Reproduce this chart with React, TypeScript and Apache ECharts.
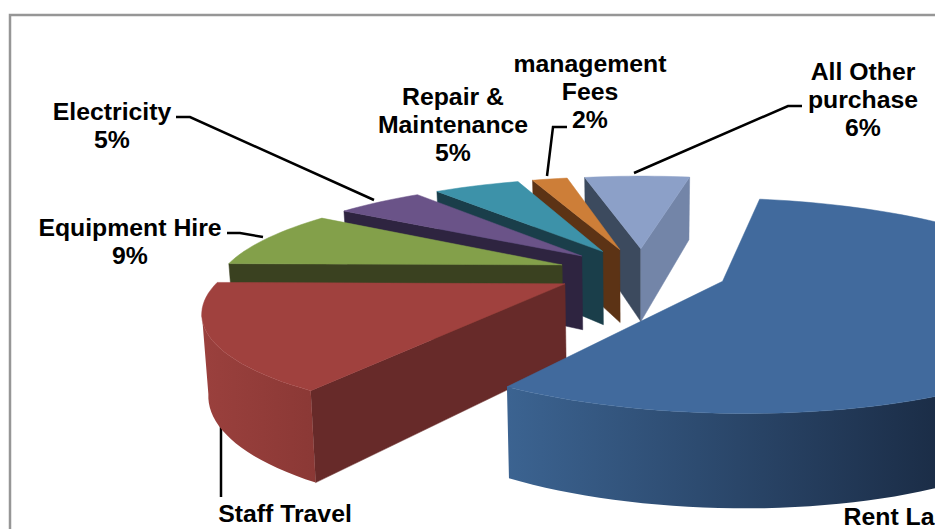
import React, { useEffect, useRef } from "react";
import * as echarts from "echarts";

const categories = ["Rent La", "Staff Travel", "Equipment Hire", "Electricity", "Repair &\nMaintenance", "management\nFees", "All Other\npurchase"];
const shares = [56.3, 16, 9.1, 5.1, 5.1, 2.1, 6.3];
const percentLabels = ["", "", "9%", "5%", "5%", "2%", "6%"];

const topColors = ["#416a9d", "#a0413e", "#83a04a", "#6a5388", "#3d92a9", "#cd7e38", "#8ca0c8"];
const startWallColors = ["#2c4a70", "#672a29", "#3a4120", "#2e2440", "#1a3e4a", "#5c3315", "#3c4a5e"];
const endWallColors = ["#2c4a70", "#672a29", "#3a4120", "#2e2440", "#1a3e4a", "#5c3315", "#7385a8"];
const rimStops: [string, string][] = [
  ["#3c6492", "#1b2d47"], ["#9a403d", "#8a3835"], ["#66803a", "#66803a"], ["#4f3d68", "#4f3d68"],
  ["#2e7085", "#2e7085"], ["#a5642b", "#a5642b"], ["#7385a8", "#7385a8"],
];
const rimRanges: [number, number][] = [[501, 935], [205, 320], [230, 320], [340, 420], [430, 520], [530, 575], [580, 690]];

const labelPositions: [number, number][] = [[889, 516], [285, 513], [130, 241], [112, 125], [453, 124], [590, 91], [863, 99]];
const leaders: [number, number][][] = [
  [[221, 420], [221, 497]],
  [[227, 233], [240, 233], [263, 237]],
  [[176, 117], [190, 117], [374, 200]],
  [[567, 127], [553, 127], [547, 176]],
  [[802, 106], [788, 106], [634, 173]],
];

const START_DEG = 10.5;
const EXPLODE = 0.25;
const CX = 642, CY = 272, A = 340, B = 98, K = 0.222, H = 76, SHRINK = 0.015, DEPTH_POW = 0.8;
const STEP = 2;
const total = shares.reduce((s, v) => s + v, 0);

function proj(X: number, Y: number, z: number): [number, number] {
  const s = 1 / (1 - K * Y);
  return [CX + A * X * s * (1 - SHRINK * z), CY + B * Y * s + H * z * Math.pow(s, DEPTH_POW)];
}
const dir = (deg: number): [number, number] => {
  const r = (deg * Math.PI) / 180;
  return [Math.sin(r), -Math.cos(r)];
};

function quad(p: [number, number], q: [number, number], fill: any, z2: number, wp: [number, number], wq: [number, number]) {
  return {
    type: "polygon",
    z2,
    shape: { points: [p, q, proj(wq[0], wq[1], 1), proj(wp[0], wp[1], 1)] },
    style: { fill, stroke: fill, lineWidth: 0.5 },
  };
}

function renderSlice(params: any, api: any) {
  const i = params.dataIndex;
  const value = api.value(0);
  let before = 0;
  for (let j = 0; j < i; j++) before += shares[j];
  const a0 = START_DEG + (before / total) * 360;
  const a1 = a0 + (value / total) * 360;
  const [ox, oy] = dir((a0 + a1) / 2);
  const apexW: [number, number] = [ox * EXPLODE, oy * EXPLODE];
  const rimW: [number, number][] = [];
  const n = Math.max(2, Math.ceil((a1 - a0) / STEP));
  for (let t = 0; t <= n; t++) {
    const [dx, dy] = dir(a0 + ((a1 - a0) * t) / n);
    rimW.push([apexW[0] + dx, apexW[1] + dy]);
  }
  const base = (shares.length - i) * 10;
  const apexP = proj(apexW[0], apexW[1], 0);
  const rimP = rimW.map((w) => proj(w[0], w[1], 0));
  const children: any[] = [];

  if (rimP[0][0] < apexP[0]) children.push(quad(apexP, rimP[0], startWallColors[i], base, apexW, rimW[0]));
  if (apexP[0] < rimP[n][0]) children.push(quad(rimP[n], apexP, endWallColors[i], base + 1, rimW[n], apexW));

  const topEdge: [number, number][] = [];
  const botEdge: [number, number][] = [];
  for (let t = 0; t < n; t++) {
    if (rimP[t + 1][0] < rimP[t][0]) {
      if (!topEdge.length) {
        topEdge.push(rimP[t]);
        botEdge.push(proj(rimW[t][0], rimW[t][1], 1));
      }
      topEdge.push(rimP[t + 1]);
      botEdge.push(proj(rimW[t + 1][0], rimW[t + 1][1], 1));
    }
  }
  if (topEdge.length) {
    const fill = new echarts.graphic.LinearGradient(rimRanges[i][0], 0, rimRanges[i][1], 0, [
      { offset: 0, color: rimStops[i][0] },
      { offset: 1, color: rimStops[i][1] },
    ], true);
    children.push({
      type: "polygon",
      z2: base + 2,
      shape: { points: [...topEdge, ...botEdge.reverse()] },
      style: { fill },
    });
  }
  children.push({
    type: "polygon",
    z2: base + 3,
    shape: { points: [apexP, ...rimP] },
    style: { fill: topColors[i], stroke: topColors[i], lineWidth: 0.5 },
  });
  return { type: "group", children };
}

export default function App() {
  const ref = useRef<HTMLDivElement>(null);
  useEffect(() => {
    document.body.style.margin = "0";
    document.body.style.overflow = "hidden";
    const chart = echarts.init(ref.current!, undefined, { renderer: "svg" });
    const textFont = { fontFamily: "'Liberation Sans', Arial, sans-serif", fontWeight: "bold", fontSize: 24.8, lineHeight: 28, fill: "#000" };
    chart.setOption({
      animation: false,
      backgroundColor: "#fff",
      graphic: [
        {
          type: "rect",
          shape: { x: 10, y: 15, width: 1000, height: 600 },
          style: { fill: "none", stroke: "#969696", lineWidth: 2.5 },
          z: 0,
        },
        ...leaders.map((points) => ({
          type: "polyline",
          shape: { points },
          style: { fill: "none", stroke: "#000", lineWidth: 2.5 },
          z: 1,
        })),
        ...categories.map((name, i) => ({
          type: "text",
          x: labelPositions[i][0],
          y: labelPositions[i][1],
          z: 5,
          style: {
            ...textFont,
            text: percentLabels[i] ? `${name}\n${percentLabels[i]}` : name,
            align: "center",
            verticalAlign: "middle",
          },
        })),
      ],
      series: [
        {
          type: "custom",
          coordinateSystem: "none",
          renderItem: renderSlice,
          clip: false,
          silent: true,
          data: shares.map((v, i) => ({ name: categories[i], value: [v] })),
        },
      ],
    });
    return () => chart.dispose();
  }, []);
  return <div ref={ref} style={{ position: "absolute", left: 0, top: 0, width: 935, height: 529, overflow: "hidden" }} />;
}
